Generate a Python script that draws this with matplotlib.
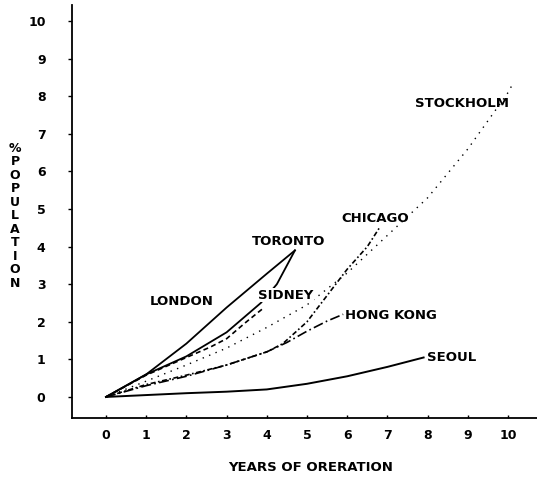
import matplotlib
matplotlib.use("Agg")
import matplotlib.pyplot as plt

# years of operation / % population
london_x = [0, 0.5, 1, 2, 3, 4, 4.7]
london_y = [0, 0.3, 0.6, 1.42, 2.38, 3.28, 3.9]

toronto_x = [0, 1, 2, 3, 3.85, 4.25, 4.7]
toronto_y = [0, 0.6, 1.08, 1.72, 2.5, 3.0, 3.9]

sidney_x = [0, 1, 2, 2.6, 3, 3.46, 3.76, 3.9]
sidney_y = [0, 0.58, 1.05, 1.33, 1.55, 1.97, 2.23, 2.35]

stockholm_x = [0, 1, 2, 3, 4, 5, 6, 7, 8, 9, 10, 10.1]
stockholm_y = [0, 0.42, 0.85, 1.3, 1.85, 2.45, 3.3, 4.3, 5.3, 6.6, 8.1, 8.3]

chicago_x = [0, 1, 2, 3, 4, 4.4, 5, 5.5, 6, 6.5, 6.8]
chicago_y = [0, 0.33, 0.58, 0.85, 1.2, 1.42, 2.0, 2.7, 3.4, 4.0, 4.5]

hongkong_x = [0, 1, 2, 3, 4, 4.5, 5, 5.5, 5.9]
hongkong_y = [0, 0.3, 0.55, 0.85, 1.2, 1.45, 1.75, 2.02, 2.2]

seoul_x = [0, 1, 2, 3, 4, 5, 6, 7, 7.9]
seoul_y = [0, 0.05, 0.1, 0.14, 0.2, 0.35, 0.55, 0.8, 1.05]

x_ticks = list(range(0, 11))
y_ticks = list(range(0, 11))

FONT = dict(family="DejaVu Sans", weight="bold")

fig = plt.figure(figsize=(5.37, 4.83), dpi=100)
ax = fig.add_axes([0.134, 0.1346, 0.866, 0.855])

ax.plot(london_x, london_y, color="black", lw=1.3)
ax.plot(toronto_x, toronto_y, color="black", lw=1.3)
ax.plot(sidney_x, sidney_y, color="black", lw=1.2, linestyle=(0, (3, 2)))
ax.plot(stockholm_x, stockholm_y, color="black", lw=1.0, linestyle=(0, (1, 4)))
ax.plot(chicago_x, chicago_y, color="black", lw=1.2, linestyle=(0, (3, 1.5, 1, 1.5)))
ax.plot(hongkong_x, hongkong_y, color="black", lw=1.2, linestyle=(0, (6, 2, 1, 2)))
ax.plot(seoul_x, seoul_y, color="black", lw=1.4)

# curve labels (left edge, vertical centre) in data units
labels = [
    ("LONDON", 1.09, 2.53),
    ("TORONTO", 3.63, 4.15),
    ("SIDNEY", 3.78, 2.71),
    ("CHICAGO", 5.85, 4.76),
    ("STOCKHOLM", 7.69, 7.82),
    ("HONG KONG", 5.95, 2.18),
    ("SEOUL", 7.99, 1.04),
]
for name, lx, ly in labels:
    t = ax.text(lx, ly, name, ha="left", va="center", fontsize=9.5, **FONT)
    if name == "SIDNEY":
        t.set_bbox(dict(facecolor="white", edgecolor="none", pad=0.5))

ax.set_xlim(-0.846, 10.72)
ax.set_ylim(-0.56, 10.43)
ax.set_xticks(x_ticks)
ax.set_yticks(y_ticks)
for lab in ax.get_xticklabels() + ax.get_yticklabels():
    lab.set_fontweight("bold")
    lab.set_fontsize(9)
ax.tick_params(axis="y", direction="out", length=3, width=1, pad=16)
ax.tick_params(axis="x", direction="in", length=2, width=1, pad=8)

for side in ["top", "right"]:
    ax.spines[side].set_visible(False)
for side in ["left", "bottom"]:
    ax.spines[side].set_linewidth(1.3)

fig.text(15 / 537, 0.553, "%\nP\nO\nP\nU\nL\nA\nT\nI\nO\nN",
         ha="center", va="center", fontsize=9, linespacing=1.05, **FONT)
fig.text(0.579, 0.033, "YEARS OF ORERATION", ha="center", va="center",
         fontsize=9.5, **FONT)

fig.savefig("out.png", dpi=100)
